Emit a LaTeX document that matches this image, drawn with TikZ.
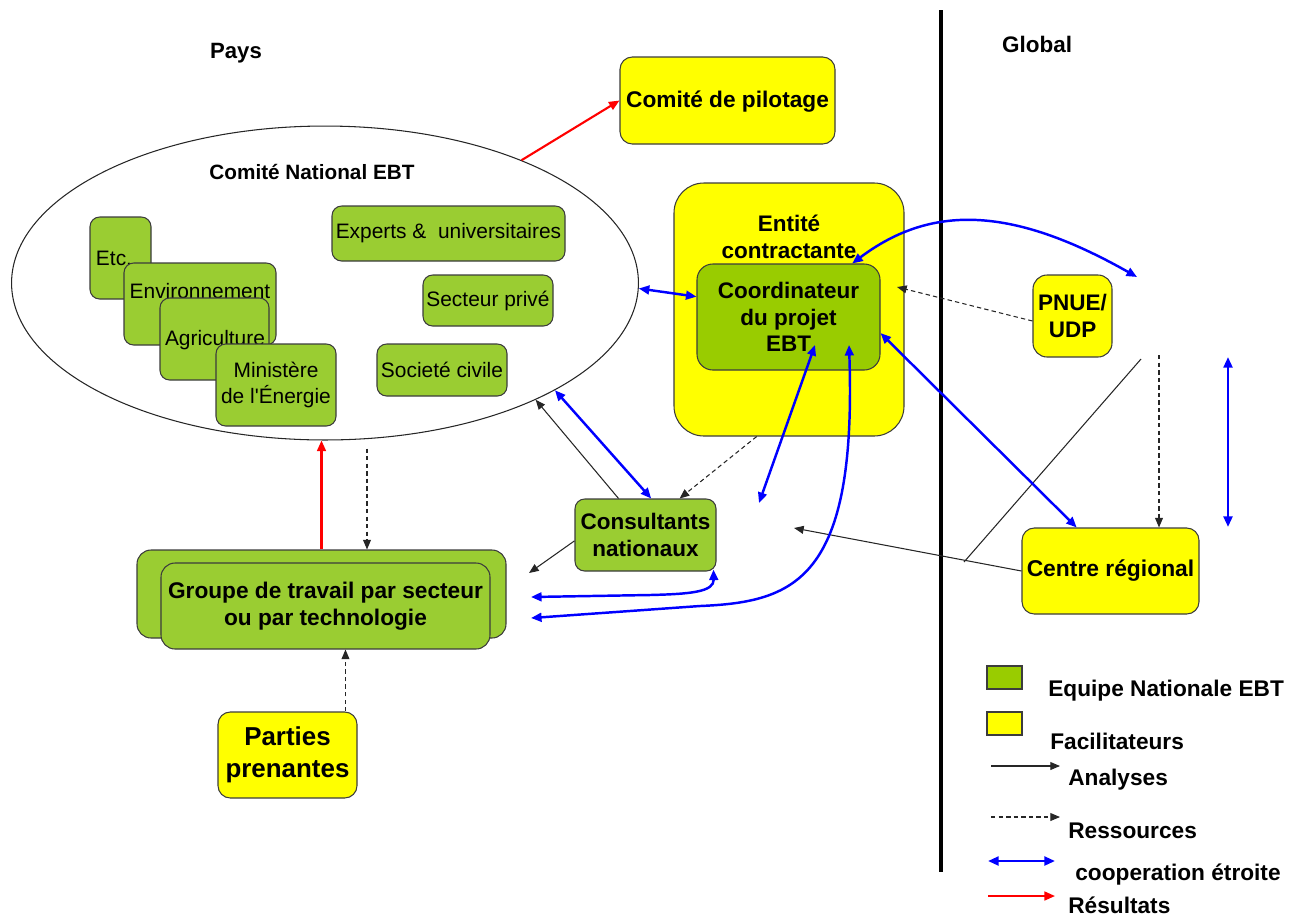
\documentclass[tikz,border=0pt]{standalone}
\usepackage{fontspec}
\setmainfont{Liberation Sans}
\usetikzlibrary{arrows.meta,calc,fit,shapes.geometric}
\definecolor{glight}{RGB}{154,205,50}
\definecolor{gdark}{RGB}{153,204,0}
\definecolor{yel}{RGB}{255,255,0}
\definecolor{bord}{RGB}{60,60,60}
\newcommand{\fsz}[2]{\fontsize{#1}{#2}\selectfont}
\begin{document}
\begin{tikzpicture}[x=0.02cm,y=-0.02cm,
  gbox/.style={draw=bord, line width=0.6pt, fill=glight, rounded corners=5.5pt, inner sep=0pt},
  gdbox/.style={gbox, fill=gdark},
  ybox/.style={draw=bord, line width=0.6pt, fill=yel, rounded corners=7pt, inner sep=0pt},
  txt/.style={inner sep=0pt, align=center, font={\fsz{11.9pt}{14.6pt}}},
  btxt/.style={inner sep=0pt, align=center, font={\bfseries\fsz{12.8pt}{15.2pt}}},
  ltxt/.style={inner sep=0pt, anchor=base west, font={\bfseries\fsz{12.9pt}{15.2pt}}},
  anaarrow/.style={draw=black!85, line width=0.6pt, -{Triangle[length=5.5pt,width=4.5pt]}},
  analine/.style={draw=black!85, line width=0.6pt},
  resarrow/.style={anaarrow, dash pattern=on 2.5pt off 1.8pt},
  cooparrow/.style={draw=blue, line width=1.4pt, {Triangle[length=6pt,width=5pt]}-{Triangle[length=6pt,width=5pt]}},
  resuarrow/.style={draw=red, line width=1.2pt, -{Triangle[length=6pt,width=5pt]}}
]
\useasboundingbox (0,0) rectangle (1300,917);

% divider
\draw[line width=2.2pt] (941,10) -- (941,872);
\node[btxt, font={\bfseries\fsz{12.6pt}{15pt}}] (pays) at (236,53) {Pays};
\node[btxt] (glob) at (1037,44) {Global};

% Comite de pilotage
\node[ybox, fit={(620,57)(835,144)}] (pilot) {};
\node[btxt, font={\bfseries\fsz{12.9pt}{15pt}}] (pilott) at ($(pilot.center)+(0,1)$) {Comité de pilotage};

% Comite national ellipse
\node[ellipse, draw=black!85, line width=0.6pt, minimum width=12.54cm, minimum height=6.28cm, inner sep=0pt] (cne) at (325,283) {};
\node[btxt, font={\bfseries\fsz{11.8pt}{14pt}}] (cnet) at (312,172) {Comité National EBT};

\node[gbox, fit={(90,217)(151,299)}] (etc) {};
\node[txt] (etct) at (114,258) {Etc.};
\node[gbox, fit={(124,263)(276,345)}] (env) {};
\node[txt] (envt) at (200,291) {Environnement};
\node[gbox, fit={(160,298)(269,380)}] (agri) {};
\node[txt] (agrit) at (215,340) {Agriculture};
\node[gbox, fit={(216,344)(336,426)}] (mini) {};
\node[txt] (minit) at (mini.center) {Ministère\\de l\textquotesingle Énergie};
\node[gbox, fit={(332,206)(565,261)}] (expe) {};
\node[txt] (expet) at (expe.center) {Experts \& \ universitaires};
\node[gbox, fit={(423,275)(553,326)}] (priv) {};
\node[txt] (privt) at (priv.center) {Secteur privé};
\node[gbox, fit={(377,344)(507,396)}] (civ) {};
\node[txt] (civt) at (civ.center) {Societé civile};

% Entite contractante
\node[ybox, rounded corners=17pt, fit={(674,183)(904,436)}] (ent) {};
\node[btxt] (entt) at (789,237) {Entité\\contractante};
\node[gdbox, rounded corners=9pt, fit={(697,264)(880,370)}] (coord) {};
\node[btxt] (coordt) at (coord.center) {Coordinateur\\du projet\\EBT};

% PNUE
\node[ybox, rounded corners=8pt, fit={(1033,275)(1112,357)}] (pnue) {};
\node[btxt] (pnuet) at (pnue.center) {PNUE/\\UDP};

% Consultants
\node[gbox, fit={(575,499)(716,571)}] (cons) {};
\node[btxt] (const) at (cons.center) {Consultants\\nationaux};

% Groupe de travail
\node[gbox, rounded corners=8pt, fit={(137,550)(506,638)}] (grpb) {};
\node[gbox, rounded corners=8pt, fit={(161,563)(490,649)}] (grp) {};
\node[btxt, font={\bfseries\fsz{12.9pt}{15.3pt}}] (grpt) at (grp.center) {Groupe de travail par secteur\\ou par technologie};

% Parties prenantes
\node[ybox, fit={(218,712)(357,798)}] (part) {};
\node[btxt, font={\bfseries\fsz{14.75pt}{18pt}}] (partt) at (part.center) {Parties\\prenantes};

% Centre regional
\node[ybox, fit={(1022,528)(1199,614)}] (cr) {};
\node[btxt, font={\bfseries\fsz{13pt}{15.5pt}}] (crt) at (cr.center) {Centre régional};

% free coordinates
\coordinate (gtop) at (1137,277);
\coordinate (gline1) at (1141,359);
\coordinate (gline2) at (964,562);
\coordinate (gdash) at (1159,355);
\coordinate (gv1) at (1228,357);
\coordinate (gv2) at (1228,527);
\coordinate (crtip) at (794,528);
\coordinate (ctipA) at (815,345);
\coordinate (ctipB) at (849,345);
\coordinate (fA) at (759,503);
\coordinate (grpA) at (531,597);
\coordinate (grpB) at (531,618);
\coordinate (grpC) at (529,573);
\coordinate (enttip) at (897,287);
\coordinate (dsrc) at ($(cne.south)+(42,8)$);
\coordinate (psrc) at ($(part.north west)!0.914!(part.north east)$);

% connectors
\draw[resuarrow] (cne.32.7) -- (pilot.west);
\draw[cooparrow] (cne.-1) -- ($(coord.north west)!0.31!(coord.south west)$);
\draw[cooparrow] ($(coord.north west)!0.846!(coord.north east)$) .. controls (930,205) and (1010,205) .. (gtop);
\draw[resarrow] ($(pnue.west)+(0,5)$) -- (enttip);
\draw[analine] (gline1) -- (gline2);
\draw[resarrow] (gdash) -- (gdash |- cr.north);
\draw[cooparrow] (gv1) -- (gv2);
\draw[anaarrow] (cr.west) -- (crtip);
\draw[cooparrow] ($(coord.north east)!0.65!(coord.south east)$) -- ($(cr.north west)!0.31!(cr.north east)$);
\draw[cooparrow] (fA) -- (ctipA);
\draw[cooparrow] (grpB) .. controls (620,612) .. (700,606) .. controls (795,602) and (857,580) .. (ctipB);
\draw[cooparrow] (grpA) -- (650,595) .. controls (690,594) and (714,592) .. ($(cons.south east)+(-3,-2)$);
\draw[cooparrow] (cne.-25.5) -- ($(cons.north west)!0.54!(cons.north east)$);
\draw[anaarrow] ($(cons.north west)!0.31!(cons.north east)$) -- (cne.-29.5);
\draw[resarrow] ($(ent.south west)!0.36!(ent.south east)$) -- ($(cons.north west)!0.74!(cons.north east)$);
\draw[anaarrow] ($(cons.north west)!0.58!(cons.south west)$) -- (grpC);
\draw[resuarrow] (grpb.north) -- (grpb.north |- cne.south);
\draw[resarrow] (dsrc) -- (dsrc |- grpb.north);
\draw[resarrow] (psrc) -- (psrc |- grp.south);

% legend
\node[draw=bord, line width=0.6pt, fill=gdark, inner sep=0pt, fit={(987,666)(1022,689)}] (lg) {};
\node[draw=bord, line width=0.6pt, fill=yel, inner sep=0pt, fit={(987,712)(1022,735)}] (ly) {};
\node[ltxt] (lgt) at (1048,696) {Equipe Nationale EBT};
\node[ltxt] (lyt) at (1050,749) {Facilitateurs};
\coordinate (la1) at (991,766); \coordinate (la2) at (1060,766);
\draw[anaarrow] (la1) -- (la2);
\node[ltxt] (lat) at (1068,785) {Analyses};
\coordinate (lr1) at (991,817); \coordinate (lr2) at (1060,817);
\draw[resarrow] (lr1) -- (lr2);
\node[ltxt] (lrt) at (1068,838) {Ressources};
\coordinate (lc1) at (988,861); \coordinate (lc2) at (1055,861);
\draw[cooparrow] (lc1) -- (lc2);
\node[ltxt] (lct) at (1075,880) {cooperation étroite};
\coordinate (ls1) at (988,896); \coordinate (ls2) at (1055,896);
\draw[resuarrow] (ls1) -- (ls2);
\node[ltxt] (lst) at (1068,913) {Résultats};
\end{tikzpicture}
\end{document}
